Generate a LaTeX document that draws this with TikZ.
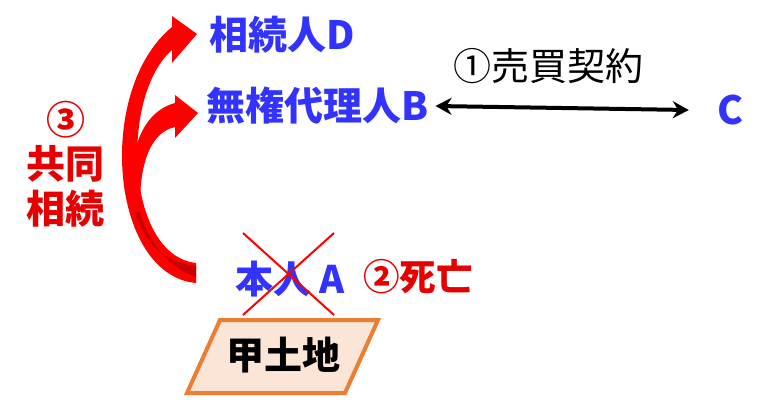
\documentclass[tikz,border=0pt]{standalone}
\usepackage{fontspec}
\setmainfont{Noto Sans CJK JP}
\usetikzlibrary{arrows.meta}
\definecolor{blueT}{RGB}{51,51,255}
\definecolor{redT}{RGB}{230,0,0}
\definecolor{redA}{RGB}{255,0,0}
\definecolor{redD}{RGB}{200,0,0}
\definecolor{orangeB}{RGB}{237,125,49}
\definecolor{peach}{RGB}{251,229,214}
\begin{document}
\begin{tikzpicture}[x=1pt,y=-1pt,
  blu/.style={text=blueT, font=\fontsize{39}{44}\selectfont\bfseries, inner sep=0pt},
  rdt/.style={text=redT, font=\fontsize{39}{44}\selectfont\bfseries, inner sep=0pt},
  blk/.style={text=black, font=\fontsize{38}{44}\selectfont, inner sep=0pt},
  landtxt/.style={text=black, font=\fontsize{38}{44}\selectfont\bfseries, inner sep=0pt},
  xline/.style={draw=redA, line width=2pt},
  curvarrow/.style={fill=redA, draw=none},
  contract/.style={line width=4pt, {Stealth[length=16pt,width=17pt]}-{Stealth[length=16pt,width=17pt]}}]
\useasboundingbox (0,0) rectangle (767,402);
% texts
\node[blu, anchor=west] (D) at (209,35) {相続人D};
\node[blu, anchor=west] (B) at (206,106) {無権代理人B};
\node[blu] (C) at (730,110) {C};
\node[blk] (sale) at (548,66) {①売買契約};
\node[rdt] (n3) at (66,120) {③};
\node[rdt] (k1) at (65,164) {共同};
\node[rdt] (k2) at (65,209) {相続};
\node[blu, anchor=west, font=\fontsize{38}{44}\selectfont\bfseries] (A) at (235,279) {本人 A};
\node[rdt, anchor=west, font=\fontsize{36.5}{44}\selectfont\bfseries] (death) at (363,277) {②死亡};
% contract arrow
\draw[contract] ([xshift=7pt]B.east) -- ([xshift=-28pt]C.west);
% cross
\draw[xline] (243,233) -- (334,315);
\draw[xline] (334,233) -- (243,315);
% land
\draw[line width=4pt, draw=orangeB, fill=peach] (220,320) -- (378,320) -- (345,393) -- (187,393) -- cycle;
\node[landtxt] (land) at (283,355) {甲土地};
% outer curved arrow (to D)
\fill[curvarrow] (196,283) .. controls (110,275) and (95,90) .. (172,27)
  -- (172,16) -- (197,34) -- (172,63) -- (172,50)
  .. controls (120,95) and (125,255) .. (196,263) -- cycle;
% inner curved arrow (to B)
\fill[curvarrow] (175,103) .. controls (142,112) and (129,150) .. (129,205)
  -- (140,205) .. controls (140,160) and (152,132) .. (175,127)
  -- (175,138) -- (198,113) -- (175,95) -- cycle;
% shading band
\fill[redD] (196,266) .. controls (165,262) and (145,245) .. (135,212)
  -- (139,212) .. controls (150,245) and (170,268) .. (196,277) -- cycle;
\end{tikzpicture}
\end{document}
